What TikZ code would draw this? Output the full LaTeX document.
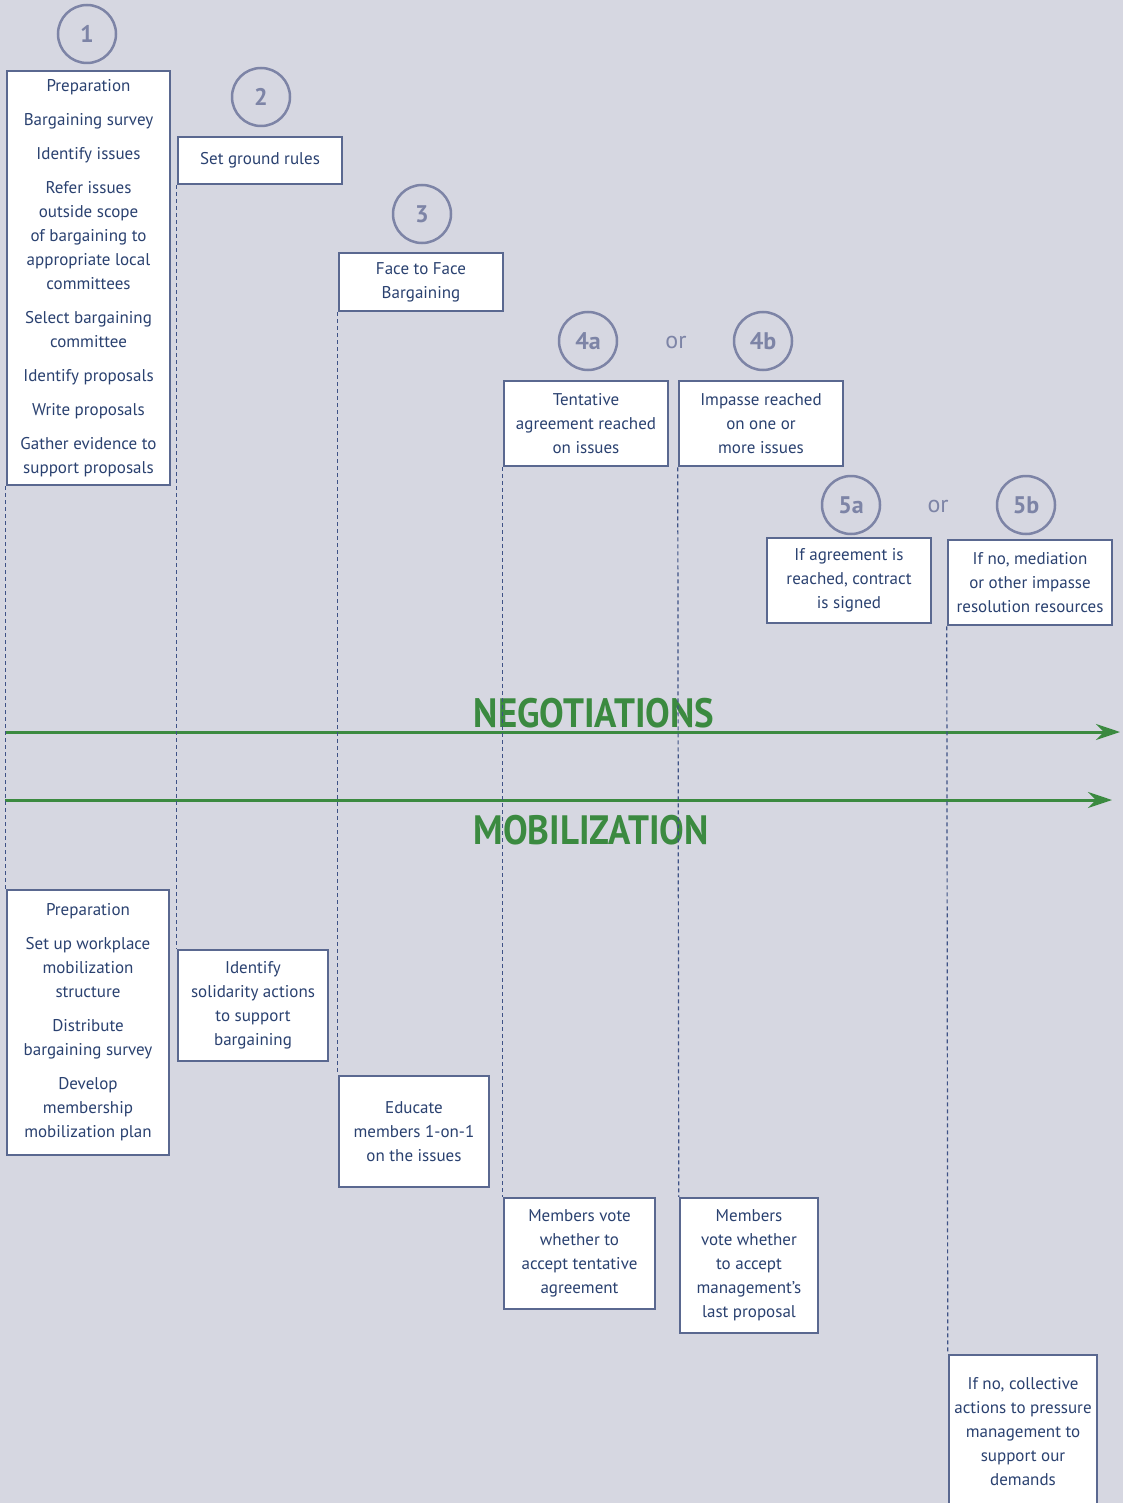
\documentclass[tikz,border=0pt]{standalone}
\usepackage{fontspec}
\setmainfont{PT Sans}
\newfontfamily\headfont[FakeStretch=0.9]{PT Sans}
\usetikzlibrary{arrows.meta}
\definecolor{bgc}{HTML}{D6D7E1}
\definecolor{boxc}{HTML}{5A6890}
\definecolor{txtc}{HTML}{2A4170}
\definecolor{circc}{HTML}{7D84A6}
\definecolor{grn}{HTML}{3B8A40}
\definecolor{dashc}{HTML}{3F5286}
\begin{document}
\begin{tikzpicture}[x=1pt,y=-1pt,
  box/.style={draw=boxc, line width=2.5pt, fill=white, text=txtc, align=center,
    font=\fontsize{17}{24}\selectfont, inner sep=0pt},
  num/.style={circle, draw=circc, line width=2.5pt, text=circc,
    font=\bfseries\fontsize{24}{24}\selectfont, minimum size=58pt, inner sep=0pt},
  ortext/.style={text=circc, font=\fontsize{24}{24}\selectfont, inner sep=0pt},
  vline/.style={draw=dashc, line width=1.2pt, dash pattern=on 4pt off 3pt},
  flow/.style={draw=grn, line width=3pt, -{Stealth[length=24pt,width=16pt]}},
  head/.style={text=grn, font=\headfont\bfseries\fontsize{41}{41}\selectfont, inner sep=0pt}]
\fill[bgc] (0,0) rectangle (1123,1503);
\useasboundingbox (0,0) rectangle (1123,1503);

% numbers
\node[num] (c1) at (87,34) {1};
\node[num] (c2) at (261,97) {2};
\node[num] (c3) at (422,214) {3};
\node[num] (c4a) at (588,341) {4a};
\node[ortext] (or1) at (676,342) {or};
\node[num] (c4b) at (763,341) {4b};
\node[num] (c5a) at (851,505) {5a};
\node[ortext] (or2) at (938,506) {or};
\node[num] (c5b) at (1026,505) {5b};

% negotiation boxes
\node[box, minimum width=163pt, minimum height=414pt] (b1) at (88.5,278)
 {Preparation\\[10pt]Bargaining survey\\[10pt]Identify issues\\[10pt]Refer issues\\outside scope\\of bargaining to\\appropriate local\\committees\\[10pt]Select bargaining\\committee\\[10pt]Identify proposals\\[10pt]Write proposals\\[10pt]Gather evidence to\\support proposals};
\node[box, minimum width=164pt, minimum height=47pt] (b2) at (260,160.5) {Set ground rules};
\node[box, minimum width=164pt, minimum height=58pt] (b3) at (421,282) {Face to Face\\Bargaining};
\node[box, minimum width=164pt, minimum height=85pt] (b4a) at (586,423.5) {Tentative\\agreement reached\\on issues};
\node[box, minimum width=164pt, minimum height=85pt] (b4b) at (761,423.5) {Impasse reached\\on one or\\more issues};
\node[box, minimum width=164pt, minimum height=85pt] (b5a) at (849,580.5) {If agreement is\\reached, contract\\is signed};
\node[box, minimum width=164pt, minimum height=85pt] (b5b) at (1030,582.5) {If no, mediation\\or other impasse\\resolution resources};

% arrows
\coordinate (n1) at (5,732);
\coordinate (n2) at (1120,732);
\coordinate (m1) at (5,800);
\coordinate (m2) at (1112,800);
\draw[flow] (n1) -- (n2);
\draw[flow] (m1) -- (m2);
\node[head] (neg) at (594,713) {NEGOTIATIONS};
\node[head] (mob) at (591,830) {MOBILIZATION};

% mobilization boxes
\node[box, minimum width=162pt, minimum height=265pt] (m1b) at (88,1022.5)
 {Preparation\\[10pt]Set up workplace\\mobilization\\structure\\[10pt]Distribute\\bargaining survey\\[10pt]Develop\\membership\\mobilization plan};
\node[box, minimum width=150pt, minimum height=111pt] (m2b) at (253,1005.5) {Identify\\solidarity actions\\to support\\bargaining};
\node[box, minimum width=150pt, minimum height=111pt] (m3b) at (414,1131.5) {Educate\\members 1-on-1\\on the issues};
\node[box, minimum width=151pt, minimum height=111pt] (m4ab) at (579.5,1253.5) {Members vote\\whether to\\accept tentative\\agreement};
\node[box, minimum width=138pt, minimum height=135pt] (m4bb) at (749,1265.5) {Members\\vote whether\\to accept\\management’s\\last proposal};
\node[box, minimum width=148pt, minimum height=154pt] (m5bb) at (1023,1432) {If no, collective\\actions to pressure\\management to\\support our\\demands};

% dashed timelines
\draw[vline] (b1.south west) -- (m1b.north west);
\draw[vline] (b2.south west) -- (m2b.north west);
\draw[vline] (b3.south west) -- (m3b.north west);
\draw[vline] (b4a.south west) -- (m4ab.north west);
\draw[vline] (b4b.south west) -- (m4bb.north west);
\draw[vline] (b5b.south west) -- (m5bb.north west);
\end{tikzpicture}
\end{document}
